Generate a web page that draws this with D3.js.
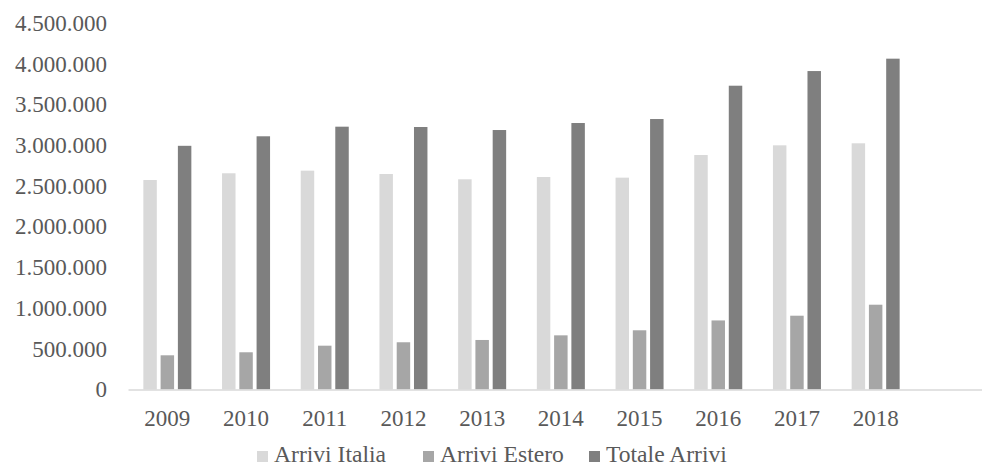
<!DOCTYPE html>
<html>
<head>
<meta charset="utf-8">
<script src="https://cdn.jsdelivr.net/npm/d3@7"></script>
<style>
  body { margin: 0; background: #fff; }
  #chart text { font-family: "Liberation Serif", "Times New Roman", serif; fill: #595959; }
</style>
</head>
<body>
<div id="chart"></div>
<script>
const years = ["2009", "2010", "2011", "2012", "2013", "2014", "2015", "2016", "2017", "2018"];
const arriviItalia = [2572000, 2655000, 2687000, 2646000, 2581000, 2609000, 2601000, 2879000, 2998000, 3023000];
const arriviEstero = [420000, 457000, 538000, 580000, 608000, 665000, 727000, 848000, 906000, 1041000];
const totaleArrivi = [2992000, 3109000, 3227000, 3223000, 3186000, 3272000, 3321000, 3730000, 3910000, 4062000];
const seriesNames = ["Arrivi Italia", "Arrivi Estero", "Totale Arrivi"];
const yTicks = [0, 500000, 1000000, 1500000, 2000000, 2500000, 3000000, 3500000, 4000000, 4500000];

const colors = ["#d9d9d9", "#a6a6a6", "#7f7f7f"];

const width = 982, height = 469;
const margin = {top: 23, left: 128, bottom: 79.5};
const slot = 78.7;
const fontSize = "23px";

const svg = d3.select("#chart")
            .append("svg")
            .attr("width", width)
            .attr("height", height);

const locale = d3.formatLocale({decimal: ",", thousands: ".", grouping: [3], currency: ["€", ""]});
const fmt = locale.format(",d");

// one empty slot after 2018, as in the original
const slots = years.concat([""]);

const x0 = d3.scaleBand()
            .domain(slots)
            .range([margin.left, margin.left + slot * slots.length]);

const x1 = d3.scaleBand()
            .domain(seriesNames)
            .range([x0.bandwidth() * 0.195, x0.bandwidth() * 0.805])
            .paddingInner(0.22)
            .paddingOuter(0);

const y = d3.scaleLinear()
            .domain([0, 4500000])
            .range([height - margin.bottom, margin.top]);

const data = years.map((yr, i) => ({
   year: yr,
   values: [arriviItalia[i], arriviEstero[i], totaleArrivi[i]]
}));

// y axis labels (no line)
const yAxis = svg.append("g")
            .attr("transform", `translate(${margin.left},0)`)
            .call(d3.axisLeft(y).tickValues(yTicks).tickFormat(fmt).tickSize(0).tickPadding(21));
yAxis.select(".domain").remove();
yAxis.selectAll("text").style("font-size", fontSize);

// bars
const groups = svg.append("g")
            .selectAll("g")
            .data(data)
            .enter()
            .append("g")
            .attr("transform", d => `translate(${x0(d.year)},0)`);

groups.selectAll("rect")
            .data(d => d.values.map((v, j) => ({key: seriesNames[j], value: v, idx: j})))
            .enter()
            .append("rect")
            .attr("x", d => x1(d.key))
            .attr("width", x1.bandwidth())
            .attr("y", d => y(d.value))
            .attr("height", d => y(0) - y(d.value))
            .attr("fill", d => colors[d.idx]);

// x axis
const xAxis = svg.append("g")
            .attr("transform", `translate(0,${y(0)})`)
            .call(d3.axisBottom(x0).tickSize(0).tickPadding(20));
xAxis.select(".domain").attr("stroke", "#d9d9d9").attr("stroke-width", 1.5);
xAxis.selectAll("text").style("font-size", fontSize);

// legend
const legend = svg.append("g").attr("transform", "translate(0,462)");
const legendX = [257, 423, 589];
seriesNames.forEach((name, i) => {
   legend.append("rect")
         .attr("x", legendX[i])
         .attr("y", -11)
         .attr("width", 11)
         .attr("height", 11)
         .attr("fill", colors[i]);
   legend.append("text")
         .attr("x", legendX[i] + 17)
         .attr("y", 0)
         .style("font-size", "23.6px")
         .text(name);
});
</script>
</body>
</html>
